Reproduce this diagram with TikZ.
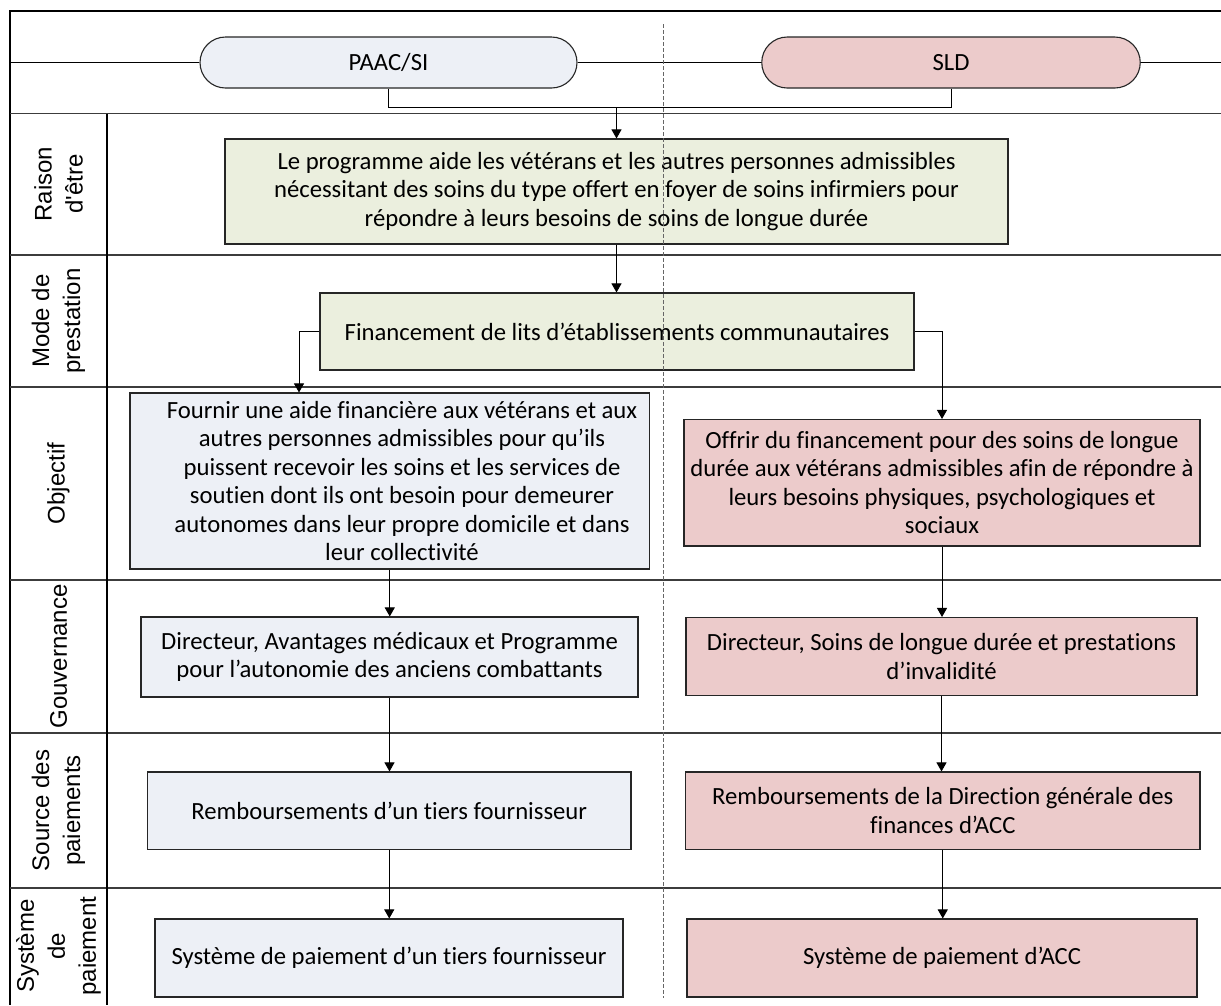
\documentclass[tikz,border=0pt]{standalone}
\usepackage{fontspec}
\setmainfont{Carlito}[Ligatures={TeX,NoCommon}]
\newfontfamily\lblfont{Liberation Sans}
\usetikzlibrary{arrows.meta,shapes.misc}
\definecolor{grn}{RGB}{235,239,222}
\definecolor{blu}{RGB}{237,240,246}
\definecolor{pnk}{RGB}{236,203,203}
\definecolor{rowln}{RGB}{60,60,60}
\begin{document}
\begin{tikzpicture}[x=1pt,y=-1pt,
  box/.style={draw=black!85,line width=1.1pt,align=center,inner sep=0pt,
    font=\fontsize{24.7}{28.5}\selectfont},
  pill/.style={rounded rectangle,draw=black!85,line width=1.1pt,minimum height=51pt,
    inner sep=0pt,font=\fontsize{24.7}{28.5}\selectfont},
  conn/.style={line width=0.9pt,-{Triangle[length=9pt,width=10pt]}},
  plain/.style={line width=0.9pt},
  lane/.style={line width=1.8pt,draw=rowln},
  lbl/.style={rotate=90,align=center,inner sep=0pt,font=\lblfont\fontsize{24}{31}\selectfont},
  txt/.style={align=center,inner sep=0pt,font=\fontsize{24.7}{28.5}\selectfont}
]
\useasboundingbox (0,0) rectangle (1221,1005);
\fill[white] (0,0) rectangle (1221,1005);

% frame and lanes
\draw[line width=1.3pt] (1221,11) -- (10,11) -- (10,1005);
\draw[lane] (10,113.5) -- (1221,113.5);
\draw[lane] (10,255) -- (1221,255);
\draw[lane,line width=1.3pt] (10,387) -- (1221,387);
\draw[lane] (10,580) -- (1221,580);
\draw[lane] (10,733) -- (1221,733);
\draw[lane,line width=1.4pt] (10,888) -- (1221,888);
\draw[line width=1.3pt] (107,113.5) -- (107,1005);

% row labels
\node[lbl] (l1) at (58.5,184) {Raison\\d\textquotesingle être};
\node[lbl] (l2) at (58.5,321) {Mode de\\prestation};
\node[lbl] (l3) at (58.5,483.5) {Objectif};
\node[lbl] (l4) at (58.5,656.5) {Gouvernance};
\node[lbl] (l5) at (58.5,810.5) {Source des\\paiements};
\node[lbl] (l6) at (58.5,946) {Système\\de\\paiement};

% header pills
\node[pill,fill=blu,minimum width=377pt] (paac) at (388.5,62.5) {PAAC/SI};
\node[pill,fill=pnk,minimum width=378.5pt] (sld) at (951,62.5) {SLD};
\coordinate (hl) at (10,62.5);
\coordinate (hr) at (1221,62.5);
\draw[plain] (hl) -- (paac.west);
\draw[plain] (paac.east) -- (sld.west);
\draw[plain] (sld.east) -- (hr);

% boxes
\node[box,fill=grn,minimum width=783pt,minimum height=105pt] (raison) at (616.5,191.5)
  {Le programme aide les vétérans et les autres personnes admissibles\\
   nécessitant des soins du type offert en foyer de soins infirmiers pour\\
   répondre à leurs besoins de soins de longue durée};
\node[box,fill=grn,minimum width=594pt,minimum height=77pt] (mode) at (617,331.5)
  {Financement de lits d’établissements communautaires};
\node[box,fill=blu,minimum width=519.5pt,minimum height=176pt] (objL) at (389.75,481) {};
\node[txt] (objLt) at (402,481)
  {Fournir une aide financière aux vétérans et aux\\
   autres personnes admissibles pour qu’ils\\
   puissent recevoir les soins et les services de\\
   soutien dont ils ont besoin pour demeurer\\
   autonomes dans leur propre domicile et dans\\
   leur collectivité};
\node[box,fill=pnk,minimum width=516pt,minimum height=126.5pt] (objR) at (942,482.75)
  {Offrir du financement pour des soins de longue\\
   durée aux vétérans admissibles afin de répondre à\\
   leurs besoins physiques, psychologiques et\\
   sociaux};
\node[box,fill=blu,minimum width=497pt,minimum height=80pt] (govL) at (389.5,657)
  {Directeur, Avantages médicaux et Programme\\
   pour l’autonomie des anciens combattants};
\node[box,fill=pnk,minimum width=511pt,minimum height=78pt] (govR) at (941.5,656.5)
  {Directeur, Soins de longue durée et prestations\\
   d’invalidité};
\node[box,fill=blu,minimum width=483.5pt,minimum height=77.5pt] (srcL) at (389.25,810.75)
  {Remboursements d’un tiers fournisseur};
\node[box,fill=pnk,minimum width=514.5pt,minimum height=77.5pt] (srcR) at (942.75,810.75)
  {Remboursements de la Direction générale des\\
   finances d’ACC};
\node[box,fill=blu,minimum width=468pt,minimum height=78pt] (sysL) at (389,958)
  {Système de paiement d’un tiers fournisseur};
\node[box,fill=pnk,minimum width=510pt,minimum height=78pt] (sysR) at (942,958)
  {Système de paiement d’ACC};

% connectors
\coordinate (j) at (616.5,107.5);
\draw[plain] (paac.south) |- (j);
\draw[plain] (sld.south) |- (j);
\draw[conn] (j) -- (raison.north);
\draw[conn] (raison.south) -- (raison.south |- mode.north);
\draw[conn] (mode.west) -| ([xshift=-90.75pt]objL.north);
\draw[conn] (mode.east) -| (objR.north);
\draw[conn] (objL.south) -- (objL.south |- govL.north);
\draw[conn] (govL.south) -- (govL.south |- srcL.north);
\draw[conn] (srcL.south) -- (srcL.south |- sysL.north);
\draw[conn] (objR.south) -- (objR.south |- govR.north);
\draw[conn] (govR.south) -- (govR.south |- srcR.north);
\draw[conn] (srcR.south) -- (srcR.south |- sysR.north);

% separator between the two programmes
\coordinate (dtop) at (663.5,24);
\coordinate (dbot) at (663.5,998);
\draw[draw=black!60,line width=0.9pt,dash pattern=on 4pt off 2pt] (dtop) -- (dbot);
\end{tikzpicture}
\end{document}
